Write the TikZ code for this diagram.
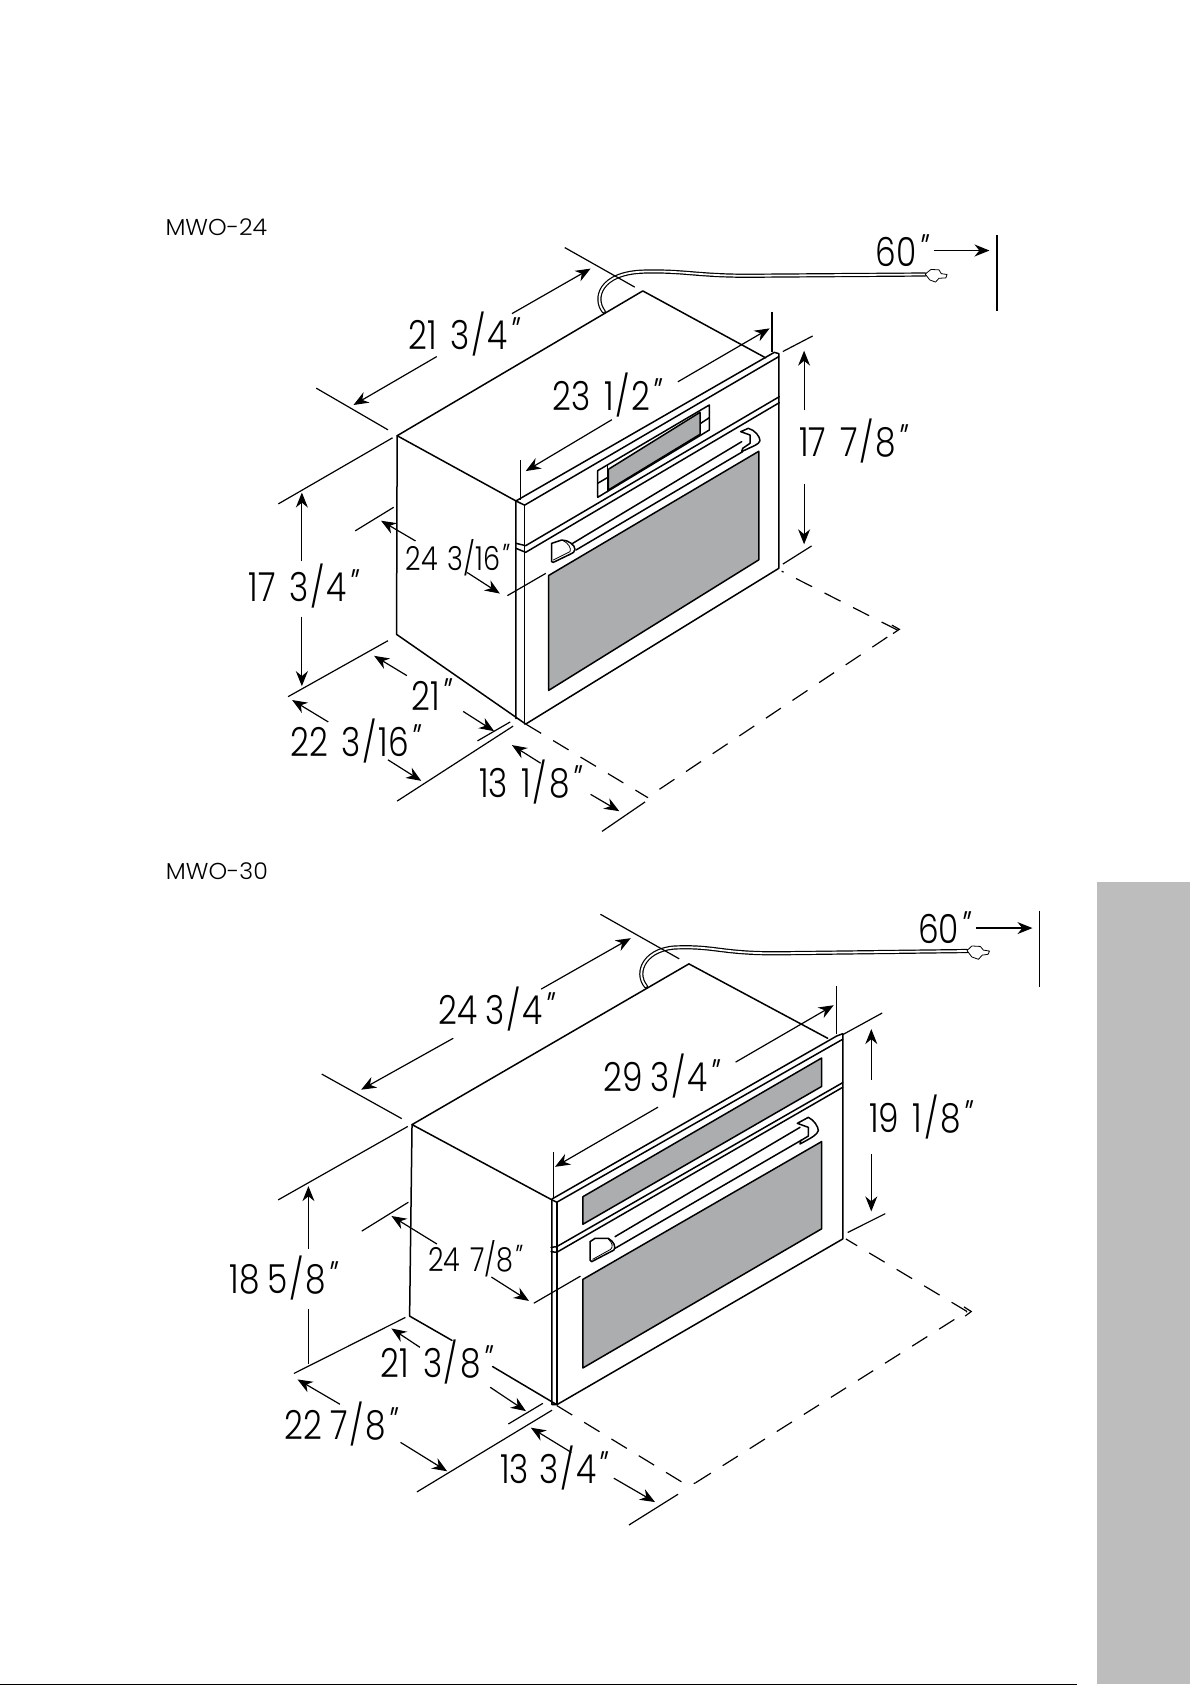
\documentclass[tikz,border=0pt]{standalone}
\usepackage{fontspec}
\setmainfont{Poppins Light}
\newfontfamily\slfont[FakeSlant=0.3]{Poppins Light}
\usetikzlibrary{arrows.meta}
\definecolor{panelgrey}{HTML}{ABADAE}
\definecolor{bandgrey}{HTML}{BDBDBD}
\newcommand{\inch}{\kern-1.5pt{\slfont"}}
\newcommand{\Sl}{\kern1pt/\kern1pt}
\newcommand{\dimtxt}[2][0.42em]{\scalebox{0.82}[1]{\fontsize{20}{22}\selectfont\spaceskip=#1 #2}}
\newcommand{\smtxt}[1]{\scalebox{0.82}[1]{\fontsize{16.5}{18}\selectfont\spaceskip=0.36em #1}}
\newcommand{\lbl}[1]{\scalebox{1.03}[1]{\fontsize{11.5}{13}\selectfont #1}}
\tikzset{
 ln/.style={draw=black,line width=0.75pt,line cap=round,line join=round},
 dimline/.style={draw=black,line width=0.6pt},
 dimarr/.style={draw=black,line width=0.6pt,-{Stealth[length=7.5pt,width=6pt]}},
 dashln/.style={draw=black,line width=0.6pt,dash pattern=on 9pt off 7pt},
 grey/.style={fill=panelgrey,draw=black,line width=0.75pt,line join=round},
 txt/.style={inner sep=0pt,text=black},
 corda/.style={draw=black,line width=2.1pt,line cap=round},
 cordb/.style={draw=white,line width=0.9pt,line cap=round},
 zA/.style={shift={(140,200)},xscale=0.57398,yscale=0.42091},
 zAb/.style={shift={(500,380)},scale=0.33333},
 zB/.style={shift={(140,850)},xscale=0.60587,yscale=0.45918},
 zBb/.style={shift={(540,1040)},scale=0.33333},
}
\begin{document}
\begin{tikzpicture}[x=0.5pt,y=-0.5pt]
\useasboundingbox (0,0) rectangle (1192,1685);
\fill[white] (0,0) rectangle (1192,1685);
\fill[bandgrey] (1097,882) rectangle (1190,1684);
\fill[black] (0,1683.6) rectangle (1077,1685);

% ---------------- MWO-24
\begin{scope}[zA]
\node[txt] (l24) at (133,65) {\lbl{MWO-24}};
% box
\draw[ln] (655,715) -- (448,560) -- (876,216) -- (1090,375);
\draw[ln] (448,560) -- (447,1032) -- (672,1245) -- (1113,875) -- (1113,365) -- (1105,362) -- (655,715) -- (655,1232);
\draw[ln] (655,715) -- (670,725) -- (1113,372);
\draw[ln] (670,725) -- (670,1245);
\draw[grey] (712,892) -- (1078,597) -- (1078,855) -- (712,1165) -- cycle;
% cord
\draw[corda] (808,265) .. controls (790,235) and (800,172) .. (880,170) .. controls (950,168) and (970,180) .. (1060,180) -- (1368,177);
\draw[cordb] (808,265) .. controls (790,235) and (800,172) .. (880,170) .. controls (950,168) and (970,180) .. (1060,180) -- (1368,177);
\draw[ln,line width=0.4pt,fill=white] (1368,176) -- (1378,165) -- (1392,166) -- (1396,175) -- (1406,177) -- (1404,185) -- (1392,186) -- (1386,195) -- (1376,190) -- cycle;
% dims
\draw[dimline] (740,113) -- (862,207);
\draw[dimline] (307,447) -- (432,546);
\draw[dimarr] (648,270) -- (785,163);
\draw[dimarr] (517,372) -- (372,487);
\draw[dimline] (1101,265) -- (1101,362);
\draw[dimline] (663,618) -- (663,712);
\draw[dimarr] (937,432) -- (1097,305);
\draw[dimarr] (822,522) -- (672,644);
\draw[dimline] (1120,360) -- (1172,323);
\draw[dimline] (1120,865) -- (1170,822);
\draw[dimarr] (1157,500) -- (1157,358);
\draw[dimarr] (1157,675) -- (1157,818);
\draw[dimarr] (1383,120) -- (1480,120);
\draw[dimline] (1493,82) -- (1493,263);
\draw[dimline] (241,722) -- (440,565);
\draw[dimline] (258,1180) -- (432,1047);
\draw[dimarr] (282,858) -- (282,695);
\draw[dimarr] (282,990) -- (282,1155);
\draw[dimline] (375,786) -- (442,730);
\draw[dimline] (640,940) -- (707,887);
\draw[dimarr] (480,810) -- (420,762);
\draw[dimarr] (570,885) -- (627,935);
\draw[dimarr] (465,1130) -- (408,1083);
\draw[dimarr] (563,1215) -- (617,1262);
\draw[dimline] (588,1285) -- (645,1240);
\draw[dimline] (448,1428) -- (650,1250);
\draw[dimarr] (328,1240) -- (265,1188);
\draw[dimarr] (432,1330) -- (490,1380);
\draw[dimline] (805,1500) -- (880,1430);
\draw[dimarr] (698,1338) -- (648,1295);
\draw[dimarr] (785,1412) -- (835,1452);
\draw[dashln] (672,1245) -- (885,1420);
\draw[dashln] (905,1400) -- (1320,1022);
\draw[dashln] (1320,1022) -- (1118,882);
\draw[dimline] (1310,1010) -- (1323,1020) -- (1312,1030);
% text
\node[txt] (a1) at (560,318) {\dimtxt{21 3\Sl 4\inch}};
\node[txt] (a2) at (809,463) {\dimtxt{23 1\Sl 2\inch}};
\node[txt] (a3) at (1238,573) {\dimtxt{17 7\Sl 8\inch}};
\node[txt] (a4) at (1323,120) {\dimtxt{60\inch}};
\node[txt] (a5) at (280,917) {\dimtxt{17 3\Sl 4\inch}};
\node[txt] (a6) at (549,850) {\smtxt{24 3/16\inch}};
\node[txt] (a7) at (503,1174) {\dimtxt{21\inch}};
\node[txt] (a8) at (371,1285) {\dimtxt{22 3\Sl 16\inch}};
\node[txt] (a9) at (675,1383) {\dimtxt{13 1\Sl 8\inch}};
\end{scope}
\begin{scope}[zAb]
% panel division
\draw[ln] (48,490) -- (77,497) -- (838,50);
\draw[ln] (48,505) -- (77,517) -- (838,68);
% display
\draw[ln] (293,272) -- (628,75) -- (628,150) -- (293,352) -- cycle;
\draw[grey] (325,268) -- (600,97) -- (600,163) -- (325,330) -- cycle;
\draw[ln] (293,310) -- (322,293) (602,130) -- (628,113);
\draw[ln] (322,255) -- (322,335);
% handle
\draw[ln] (218,490) -- (725,185);
\draw[ln] (228,510) -- (728,215);
\draw[ln,fill=white] (155,490) -- (185,480) .. controls (205,480) and (225,495) .. (225,508) .. controls (225,515) and (218,520) .. (212,522) -- (160,547) -- (155,545) -- cycle;
\draw[ln,line width=0.4pt] (190,482) .. controls (205,490) and (215,505) .. (210,515) -- (160,540);
\draw[ln,fill=white] (722,155) -- (745,145) .. controls (765,150) and (780,170) .. (780,182) .. controls (775,195) and (765,195) .. (725,215) -- (728,205) -- (750,190) -- (750,165) -- cycle;
\end{scope}

% ---------------- MWO-30
\begin{scope}[zB]
\node[txt] (l30) at (127,47) {\lbl{MWO-30}};
\draw[ln] (680,762) -- (449,598) -- (906,248) -- (1135,410);
\draw[ln] (449,598) -- (445,1015) -- (515,1068);
\draw[ln] (582,1125) -- (688,1208) -- (1160,847) -- (1160,400) -- (1150,405) -- (680,760) -- (680,1208) -- (688,1208);
\draw[ln] (680,762) -- (688,767) -- (1160,412);
\draw[ln] (688,767) -- (688,1208);
\draw[grey] (731,755) -- (1125,453) -- (1125,515) -- (731,815) -- cycle;
\draw[grey] (731,935) -- (1125,635) -- (1125,825) -- (731,1128) -- cycle;
\draw[corda] (835,297) .. controls (815,265) and (835,212) .. (890,212) .. controls (950,210) and (960,225) .. (1050,225) -- (1365,220);
\draw[cordb] (835,297) .. controls (815,265) and (835,212) .. (890,212) .. controls (950,210) and (960,225) .. (1050,225) -- (1365,220);
\draw[ln,line width=0.4pt,fill=white] (1365,219) -- (1373,209) -- (1387,210) -- (1392,218) -- (1402,220) -- (1400,227) -- (1390,229) -- (1384,238) -- (1373,233) -- cycle;
\draw[dimline] (760,140) -- (890,237);
\draw[dimline] (300,488) -- (432,585);
\draw[dimarr] (662,303) -- (810,192);
\draw[dimarr] (517,410) -- (365,522);
\draw[dimline] (1149,296) -- (1149,400);
\draw[dimline] (682,658) -- (682,760);
\draw[dimarr] (983,462) -- (1145,338);
\draw[dimarr] (855,560) -- (685,690);
\draw[dimline] (1160,402) -- (1225,355);
\draw[dimline] (1168,833) -- (1230,792);
\draw[dimarr] (1207,500) -- (1207,390);
\draw[dimarr] (1207,662) -- (1207,787);
\draw[dimarr] (1380,170) -- (1473,170);
\draw[dimline] (1484,132) -- (1484,298);
\draw[dimline] (228,762) -- (442,602);
\draw[dimline] (254,1140) -- (438,1018);
\draw[dimarr] (278,868) -- (278,732);
\draw[dimline] (278,1000) -- (278,1120);
\draw[dimline] (366,830) -- (443,767);
\draw[dimline] (650,987) -- (727,928);
\draw[dimarr] (490,858) -- (415,797);
\draw[dimarr] (580,930) -- (642,982);
\draw[dimarr] (462,1083) -- (415,1042);
\draw[dimarr] (578,1170) -- (637,1222);
\draw[dimline] (608,1250) -- (665,1205);
\draw[dimline] (457,1398) -- (680,1220);
\draw[dimarr] (330,1207) -- (260,1153);
\draw[dimarr] (430,1290) -- (507,1353);
\draw[dimline] (807,1470) -- (888,1403);
\draw[dimarr] (712,1312) -- (645,1258);
\draw[dimarr] (782,1368) -- (850,1420);
\draw[dashln] (688,1210) -- (905,1385) -- (917,1378);
\draw[dashln] (917,1378) -- (1365,1005);
\draw[dashln] (1365,1005) -- (1165,847);
\draw[dimline] (1360,995) -- (1372,1005) -- (1362,1015);
\node[txt] (b1) at (584,347) {\dimtxt[0.25em]{24 3\Sl 4\inch}};
\node[txt] (b2) at (856,493) {\dimtxt[0.25em]{29 3\Sl 4\inch}};
\node[txt] (b3) at (1284,582) {\dimtxt{19 1\Sl 8\inch}};
\node[txt] (b4) at (1323,170) {\dimtxt{60\inch}};
\node[txt] (b5) at (233,932) {\dimtxt[0.25em]{18 5\Sl 8\inch}};
\node[txt] (b6) at (550,891) {\smtxt{24 7/8\inch}};
\node[txt] (b7) at (485,1115) {\dimtxt{21 3\Sl 8\inch}};
\node[txt] (b8) at (327,1251) {\dimtxt[0.25em]{22 7\Sl 8\inch}};
\node[txt] (b9) at (679,1345) {\dimtxt[0.32em]{13 3\Sl 4\inch}};
\end{scope}
\begin{scope}[zBb]
\draw[ln] (33,622) -- (50,620) -- (908,128);
\draw[ln] (33,635) -- (50,637) -- (908,142);
\draw[ln] (225,590) -- (780,262);
\draw[ln] (225,625) -- (785,300);
\draw[ln,fill=white] (150,605) -- (165,595) -- (205,595) .. controls (222,605) and (228,620) .. (222,630) -- (155,665) -- (150,660) -- cycle;
\draw[ln,line width=0.4pt] (205,597) .. controls (218,610) and (220,620) .. (212,628) -- (158,658);
\draw[ln,fill=white] (772,250) -- (805,232) .. controls (822,240) and (835,260) .. (835,272) .. controls (830,285) and (820,290) .. (780,312) -- (782,302) -- (805,288) -- (805,262) -- cycle;
\end{scope}
\end{tikzpicture}
\end{document}
